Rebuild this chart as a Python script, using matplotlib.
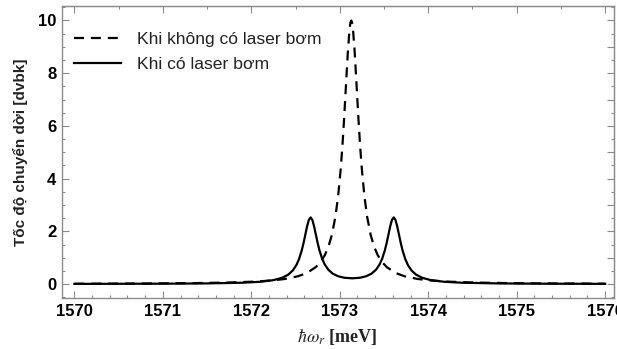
import matplotlib
matplotlib.use("Agg")
import matplotlib.pyplot as plt
from matplotlib.ticker import MultipleLocator, NullFormatter

plt.rcParams["font.family"] = ["Liberation Sans", "DejaVu Sans"]
plt.rcParams["mathtext.fontset"] = "stix"

# dashed curve: without pump laser
x_dash = [1570.0, 1570.8, 1571.33, 1571.73, 1572.03, 1572.23, 1572.38, 1572.53,
          1572.63, 1572.73, 1572.78, 1572.83, 1572.87, 1572.91, 1572.95, 1572.98,
          1573.01, 1573.03, 1573.05, 1573.07, 1573.09, 1573.11, 1573.12, 1573.13,
          1573.14, 1573.15, 1573.17, 1573.19, 1573.21, 1573.23, 1573.25, 1573.28,
          1573.31, 1573.35, 1573.39, 1573.43, 1573.48, 1573.53, 1573.63, 1573.73,
          1573.88, 1574.03, 1574.23, 1574.53, 1574.93, 1575.43, 1576.0]
y_dash = [0.011, 0.020, 0.034, 0.056, 0.090, 0.134, 0.192, 0.297,
          0.422, 0.645, 0.826, 1.09, 1.40, 1.855, 2.54, 3.29,
          4.34, 5.24, 6.33, 7.54, 8.73, 9.65, 9.91, 10.0,
          9.91, 9.65, 8.73, 7.54, 6.33, 5.24, 4.34, 3.29,
          2.54, 1.855, 1.40, 1.09, 0.826, 0.645, 0.422, 0.297,
          0.192, 0.134, 0.090, 0.056, 0.034, 0.021, 0.013]

# solid curve: with pump laser
x_solid = [1570.0, 1571.0, 1571.5, 1571.9, 1572.1, 1572.25, 1572.35, 1572.42,
           1572.47, 1572.51, 1572.54, 1572.57, 1572.59, 1572.61, 1572.63, 1572.65,
           1572.67, 1572.69, 1572.71, 1572.73, 1572.75, 1572.77, 1572.80, 1572.83,
           1572.87, 1572.92, 1572.98, 1573.05, 1573.14, 1573.23, 1573.30, 1573.36,
           1573.41, 1573.45, 1573.48, 1573.51, 1573.53, 1573.55, 1573.57, 1573.59,
           1573.61, 1573.63, 1573.65, 1573.67, 1573.69, 1573.71, 1573.74, 1573.77,
           1573.81, 1573.86, 1573.93, 1574.03, 1574.18, 1574.38, 1574.78, 1575.28,
           1576.0]
y_solid = [0.005, 0.013, 0.024, 0.050, 0.086, 0.148, 0.238, 0.362,
           0.519, 0.723, 0.951, 1.273, 1.548, 1.863, 2.181, 2.431,
           2.528, 2.433, 2.186, 1.870, 1.557, 1.285, 0.967, 0.743,
           0.545, 0.396, 0.297, 0.239, 0.217, 0.239, 0.297, 0.396,
           0.545, 0.743, 0.967, 1.285, 1.557, 1.870, 2.186, 2.433,
           2.528, 2.431, 2.181, 1.863, 1.548, 1.273, 0.951, 0.723,
           0.519, 0.362, 0.238, 0.148, 0.086, 0.050, 0.024, 0.013,
           0.007]

labels = ["Khi không có laser bơm", "Khi có laser bơm"]
x_ticks = [1570, 1571, 1572, 1573, 1574, 1575, 1576]
y_ticks = [0, 2, 4, 6, 8, 10]

frame = "#8c8c8c"
fig = plt.figure(figsize=(6.17, 3.49), dpi=100)
ax = fig.add_axes([62 / 617, 51 / 349, 552 / 617, 292 / 349])

ax.plot(x_dash, y_dash, color="black", lw=1.6, dashes=(4.5, 3.1), label=labels[0])
ax.plot(x_solid, y_solid, color="black", lw=1.6, label=labels[1])

ax.set_xlim(1569.86, 1576.1)
ax.set_ylim(-0.53, 10.55)
ax.set_xticks(x_ticks)
ax.set_yticks(y_ticks)
ax.xaxis.set_minor_locator(MultipleLocator(0.2))
ax.yaxis.set_minor_locator(MultipleLocator(0.5))
ax.tick_params(which="both", direction="in", color=frame, top=False, right=False)
ax.tick_params(which="major", length=5, width=0.8, labelsize=12, pad=4)
ax.tick_params(which="minor", length=2.5, width=0.8)
for lab in ax.get_xticklabels() + ax.get_yticklabels():
    lab.set_fontweight("bold")
for s in ax.spines.values():
    s.set_color(frame)
    s.set_linewidth(1.0)

# mirrored frame ticks (top and right, no labels)
top = ax.secondary_xaxis("top")
top.xaxis.set_major_locator(MultipleLocator(1))
top.xaxis.set_minor_locator(MultipleLocator(0.5))
top.xaxis.set_major_formatter(NullFormatter())
top.tick_params(which="both", direction="in", color=frame)
top.tick_params(which="major", length=5, width=0.8)
top.tick_params(which="minor", length=2.5, width=0.8)
top.spines["top"].set_color(frame)

right = ax.secondary_yaxis("right")
right.yaxis.set_major_locator(MultipleLocator(1))
right.yaxis.set_minor_locator(MultipleLocator(0.5))
right.yaxis.set_major_formatter(NullFormatter())
right.tick_params(which="both", direction="in", color=frame)
right.tick_params(which="major", length=5, width=0.8)
right.tick_params(which="minor", length=2.5, width=0.8)
right.spines["right"].set_color(frame)

ax.set_ylabel("Tốc độ chuyển dời [dvbk]", fontsize=11, fontweight="bold", color="#222222")
ax.yaxis.set_label_coords(-0.062, 0.5)
ax.set_xlabel(r"$\hbar\omega_r$ [meV]", fontsize=13, fontweight="bold",
              family=["Liberation Serif", "DejaVu Serif"], color="#222222")
ax.xaxis.set_label_coords(0.498, -0.1)

ax.legend(loc="upper left", bbox_to_anchor=(0.022, 0.913), frameon=False,
          fontsize=12.6, handlelength=2.7, handletextpad=0.9, labelspacing=0.56,
          borderpad=0, borderaxespad=0, labelcolor="#222222")

fig.savefig("out.png", dpi=100)
